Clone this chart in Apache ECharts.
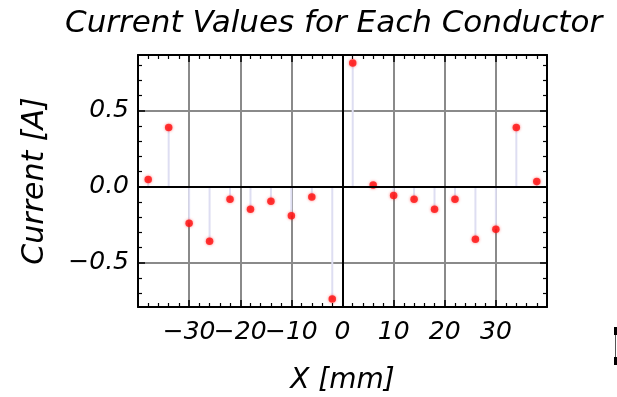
<!DOCTYPE html>
<html>
<head>
<meta charset="utf-8">
<script src="https://cdn.jsdelivr.net/npm/echarts@6/dist/echarts.min.js"></script>
<style>
  html, body { margin: 0; padding: 0; background: #fff; }
  #chart { width: 617px; height: 397px; }
</style>
</head>
<body>
<div id="chart"></div>
<script>
// Conductor positions along X (mm) and the current carried by each (A)
const positions = [-38, -34, -30, -26, -22, -18, -14, -10, -6, -2, 2, 6, 10, 14, 18, 22, 26, 30, 34, 38];
const currents = [0.048, 0.389, -0.24, -0.358, -0.083, -0.148, -0.096, -0.19, -0.068, -0.738,
                  0.813, 0.011, -0.057, -0.083, -0.148, -0.083, -0.345, -0.279, 0.389, 0.035];

// Tick labels
const xTickLabels = [-30, -20, -10, 0, 10, 20, 30];
const yTickLabels = [-0.5, 0.0, 0.5];

const X_MIN = -40, X_MAX = 40;
const Y_MIN = -0.79, Y_MAX = 0.865;

// minor ticks on the current axis, every 0.1 A between the labelled ones
const yMinor = [];
for (let k = -7; k <= 8; k++) {
  if (k % 5 !== 0) yMinor.push(k / 10);
}

// the crowded X labels are split over two stacked axes so none gets dropped
const xLabelsOdd = xTickLabels.filter((v, i) => i % 2 === 0);
const xLabelsEven = xTickLabels.filter((v, i) => i % 2 === 1);

const FONT = 'DejaVu Sans';
const minus = s => String(s).replace('-', '\u2212');

const frameLine = { show: true, onZero: false, lineStyle: { color: '#000', width: 2 } };
const noLine = { show: false, onZero: false };
const gridLine = { show: true, lineStyle: { color: '#8a8a8a', width: 2 } };
const tickFont = { fontFamily: FONT, fontStyle: 'italic', fontSize: 25, color: '#000' };

function xAxisDef(pos, frame, labels, withName) {
  return {
    type: 'value', position: pos, min: X_MIN, max: X_MAX, interval: 10,
    axisLine: frame ? frameLine : noLine,
    axisTick: frame ? { show: true, inside: true, length: 7, lineStyle: { color: '#000', width: 1.5 } } : { show: false },
    minorTick: frame ? { show: true, splitNumber: 5, length: 4, lineStyle: { color: '#000', width: 1.2 } } : { show: false },
    splitLine: withName ? gridLine : { show: false },
    axisLabel: labels ? Object.assign({
      show: true, customValues: labels, margin: 13, hideOverlap: false,
      formatter: v => minus(v)
    }, tickFont) : { show: false },
    name: withName ? 'X [mm]' : '',
    nameLocation: 'middle', nameGap: 60,
    nameTextStyle: { fontFamily: FONT, fontStyle: 'italic', fontSize: 28, color: '#000' }
  };
}

function yAxisDef(pos, major, withLabels) {
  return {
    type: 'value', position: pos, min: Y_MIN, max: Y_MAX,
    axisLine: major ? frameLine : noLine,
    axisTick: {
      show: true, inside: true, length: major ? 7 : 4,
      customValues: major ? yTickLabels : yMinor,
      lineStyle: { color: '#000', width: major ? 1.5 : 1.2 }
    },
    splitLine: (major && withLabels) ? gridLine : { show: false },
    axisLabel: withLabels ? Object.assign({
      show: true, customValues: yTickLabels, margin: 9, hideOverlap: false,
      formatter: v => minus(v.toFixed(1))
    }, tickFont) : { show: false },
    name: withLabels ? 'Current [A]' : '',
    nameLocation: 'middle', nameGap: 88,
    nameTextStyle: { fontFamily: FONT, fontStyle: 'italic', fontSize: 30, color: '#000' }
  };
}

const stems = positions.map((x, i) => [x, currents[i]]);

const option = {
  backgroundColor: '#fff',
  animation: false,
  title: {
    text: 'Current Values for Each Conductor',
    left: 60, top: 3,
    textStyle: { fontFamily: FONT, fontStyle: 'italic', fontWeight: 'normal', fontSize: 31, color: '#000' }
  },
  grid: { left: 138, right: 70, top: 55, bottom: 90, containLabel: false, outerBoundsMode: 'none' },
  xAxis: [
    xAxisDef('bottom', true, xLabelsOdd, true),
    xAxisDef('top', true, null, false),
    xAxisDef('bottom', false, xLabelsEven, false)
  ],
  yAxis: [
    yAxisDef('left', true, true),
    yAxisDef('left', false, false),
    yAxisDef('right', true, false),
    yAxisDef('right', false, false)
  ],
  graphic: [
    { type: 'rect', left: 614, top: 327, shape: { width: 3, height: 8 }, style: { fill: '#000' } },
    { type: 'rect', left: 615, top: 335, shape: { width: 1, height: 23 }, style: { fill: '#555' } },
    { type: 'rect', left: 614, top: 357, shape: { width: 3, height: 8 }, style: { fill: '#000' } }
  ],
  series: [
    {
      // fill from the axis up/down to each value
      type: 'bar', xAxisIndex: 0, yAxisIndex: 0,
      data: stems, barWidth: 2, z: 2,
      itemStyle: { color: '#dedef2' },
      markLine: {
        silent: true, symbol: 'none', animation: false,
        label: { show: false },
        lineStyle: { color: '#000', width: 2, type: 'solid' },
        data: [{ xAxis: 0 }, { yAxis: 0 }]
      }
    },
    {
      type: 'scatter', xAxisIndex: 0, yAxisIndex: 0,
      data: stems, symbolSize: 7.5, z: 4,
      itemStyle: { color: '#ff1010', shadowBlur: 3, shadowColor: 'rgba(255,0,0,0.6)' }
    }
  ]
};

echarts.init(document.getElementById('chart')).setOption(option);
</script>
</body>
</html>
